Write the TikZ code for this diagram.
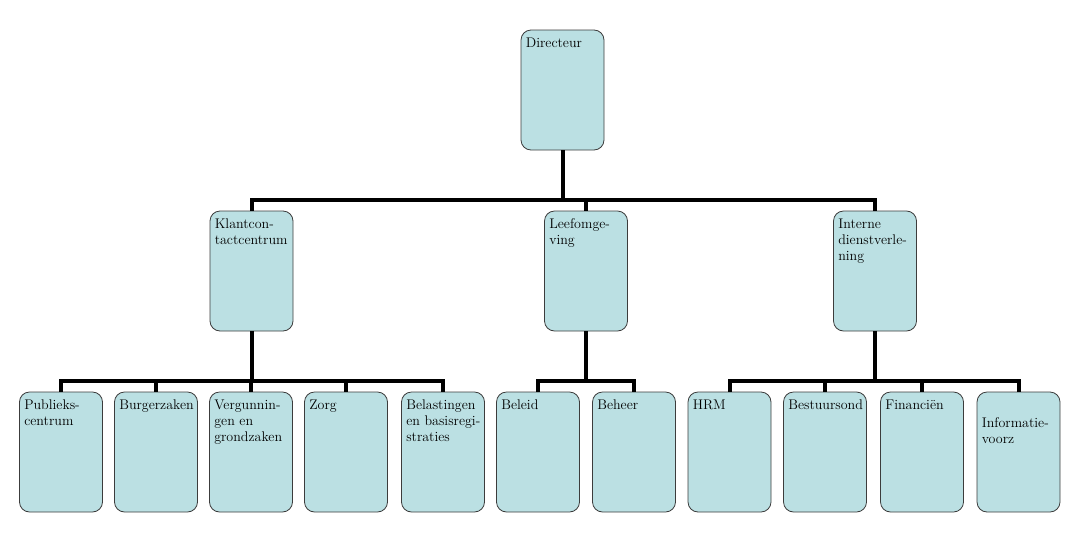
\documentclass[tikz,border=0pt]{standalone}
\usepackage{xcolor}
\usepackage{tikz}
\usetikzlibrary{
    positioning
}
\definecolor{boxfill}{RGB}{187,224,227}
\definecolor{boxline}{RGB}{60,60,60}
\tikzstyle{unit} = [
    rectangle, draw,
    rounded corners=10pt,
    minimum width=83pt,
    minimum height=120pt,
    inner sep=0pt,
    draw=boxline,
    line width=0.8pt,
    fill=boxfill
]
\tikzstyle{unittext} = [
    anchor=north west,
    inner xsep=5pt,
    inner ysep=8pt,
    align=left,
    font=\fontsize{14}{16}\selectfont
]
\tikzstyle{link} = [
    line width=4pt,
    black
]

\begin{document}
\begin{tikzpicture}[x=1pt, y=-1pt]
    \useasboundingbox (0,0) rectangle (1076,533);
    % top
    \node[unit, label={[unittext]north west:Directeur}] (dir) at (562.5,90) {};
    % middle row
    \node[unit, label={[unittext]north west:Klantcon-\\tactcentrum}] (kcc) at (251.5,271) {};
    \node[unit, label={[unittext]north west:Leefomge-\\ving}] (leef) at (586,271) {};
    \node[unit, label={[unittext]north west:Interne\\dienstverle-\\ning}] (ids) at (875,271) {};
    % bottom row
    \node[unit, label={[unittext]north west:Publieks-\\centrum}] (pub) at (61,452) {};
    \node[unit, label={[unittext]north west:Burgerzaken}] (burg) at (156,452) {};
    \node[unit, label={[unittext]north west:Vergunnin-\\gen en\\grondzaken}] (verg) at (251,452) {};
    \node[unit, label={[unittext]north west:Zorg}] (zorg) at (346,452) {};
    \node[unit, label={[unittext]north west:Belastingen\\en basisregi-\\straties}] (bel) at (443,452) {};
    \node[unit, label={[unittext]north west:Beleid}] (beleid) at (538,452) {};
    \node[unit, label={[unittext]north west:Beheer}] (beheer) at (634,452) {};
    \node[unit, label={[unittext]north west:HRM}] (hrm) at (729.5,452) {};
    \node[unit, label={[unittext]north west:Bestuursond}] (best) at (825,452) {};
    \node[unit, label={[unittext]north west:Financiën}] (fin) at (922,452) {};
    \node[unit, label={[unittext]north west:\strut\\Informatie-\\voorz}] (info) at (1018.5,452) {};
    % connectors
    \foreach \child in {kcc, leef, ids}
        \draw[link] (dir.south) -- ++(0,50) -| (\child.north);
    \foreach \child in {pub, burg, verg, zorg, bel}
        \draw[link] (kcc.south) -- ++(0,50) -| (\child.north);
    \foreach \child in {beleid, beheer}
        \draw[link] (leef.south) -- ++(0,50) -| (\child.north);
    \foreach \child in {hrm, best, fin, info}
        \draw[link] (ids.south) -- ++(0,50) -| (\child.north);
\end{tikzpicture}
\end{document}
